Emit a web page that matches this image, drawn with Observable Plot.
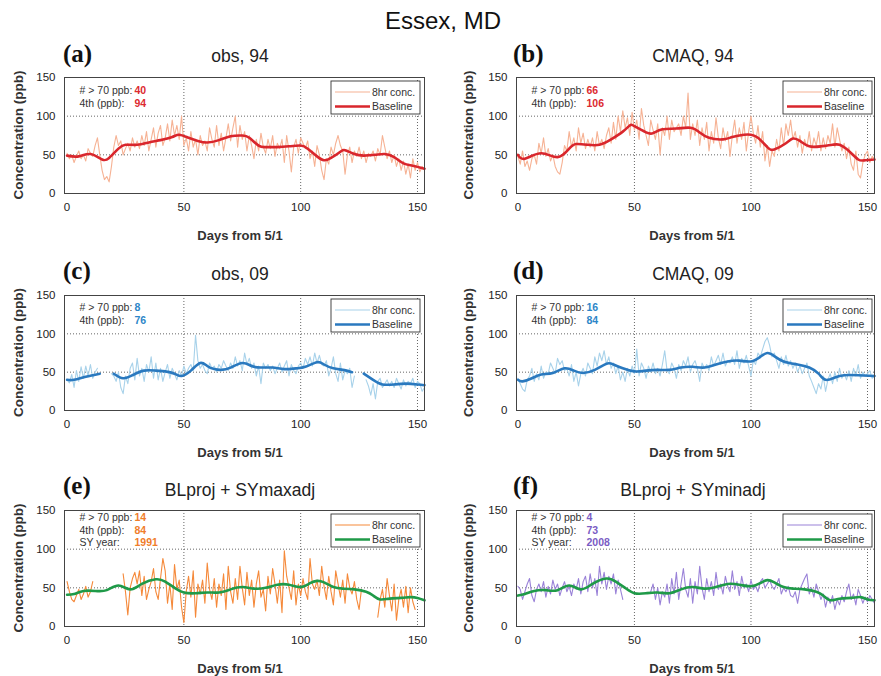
<!DOCTYPE html>
<html><head><meta charset="utf-8">
<script src="https://cdn.jsdelivr.net/npm/d3@7"></script>
<script src="https://cdn.jsdelivr.net/npm/@observablehq/plot@0.6"></script>
<style>
html,body{margin:0;padding:0;background:#fff;}
#page{position:relative;width:881px;height:676px;overflow:hidden;font-family:"Liberation Sans",Arial,sans-serif;background:#fff;}
#page svg.panel{position:absolute;}
#overlay{position:absolute;left:0;top:0;}
</style></head><body><div id="page"></div>
<script>
// ---------- data ----------
const xTicks = [0, 50, 100, 150];
const yTicks = [0, 50, 100, 150];
const xGrid = [50, 100, 150];
const yGrid = [50, 100];
const statLabels2 = ["# > 70 ppb:", "4th (ppb):"];
const statLabels3 = ["# > 70 ppb:", "4th (ppb):", "SY year:"];
const legendLabels = ["8hr conc.", "Baseline"];
const panelTitles = ["obs, 94", "CMAQ, 94", "obs, 09", "CMAQ, 09", "BLproj + SYmaxadj", "BLproj + SYminadj"];
const panelLetters = ["(a)", "(b)", "(c)", "(d)", "(e)", "(f)"];

// (a) obs, 94 — daily 8hr conc, index = day
const concA = [52,45,50,40,48,55,45,50,42,58, 52,48,62,72,50,30,18,22,15,35,
 60,75,62,68,50,58,65,55,72,60, 68,58,75,62,80,55,70,85,60,78, 88,62,72,90,68,95,75,88,70,100,
 62,72,55,80,60,70,50,75,62,68, 55,85,70,60,88,62,78,55,72,90, 68,85,100,60,88,70,80,55,75,62,
 45,70,55,78,60,52,70,58,75,48, 65,58,70,40,75,55,28,60,70,52, 72,65,58,68,45,55,35,62,50,30,
 18,45,38,60,50,65,75,62,55,25, 50,60,40,55,48,60,45,55,40,52, 48,55,42,58,50,75,60,45,55,40,
 50,35,45,30,42,25,38,20,45,30, 40,28,35,30];
const baseA_x = [0,5,10,15,18,22,25,30,35,40,45,48,52,56,60,65,70,75,78,82,85,90,95,100,103,107,110,113,117,119,123,127,132,136,140,144,148,153];
const baseA_y = [49,48,51,44,46,58,63,63,66,69,73,76,72,68,66,69,74,75,72,62,60,60,61,62,58,48,43,46,54,56,51,49,50,51,47,39,36,32];
const statsA = ["40", "94"];

// (b) CMAQ, 94
const concB = [48,38,55,35,42,30,45,50,38,65, 52,72,48,58,42,50,35,28,25,40,
 62,55,80,60,72,55,85,65,78,58, 70,60,72,55,80,62,70,58,75,85, 65,92,70,100,80,107,85,98,75,105,
 82,95,70,110,88,75,62,95,82,70, 90,50,85,75,100,70,95,80,85,90, 75,100,85,130,70,90,75,95,62,85,
 70,92,55,80,65,98,72,58,85,68, 80,48,75,95,65,85,70,92,55,80, 100,78,65,88,60,80,42,62,35,55,
 48,70,55,85,62,90,75,95,70,80, 60,75,52,70,60,80,55,72,62,80, 55,72,58,75,65,90,60,85,70,55,
 65,45,60,38,30,55,25,20,40,50, 55,40,48,45];
const baseB_x = [0,3,10,17,22,25,30,35,40,45,48,50,55,58,62,68,74,78,82,88,92,97,100,103,107,110,115,118,121,125,130,135,138,142,146,149,153];
const baseB_y = [50,45,52,47,58,64,63,63,70,80,88,87,79,78,83,84,85,79,72,70,73,76,76,72,60,57,65,71,68,61,61,63,63,55,44,43,44];
const statsB = ["66", "106"];

// (c) obs, 09 (null = missing)
const concC = [40,36,47,30,52,38,57,42,58,45, 60,42,50,55,null,null,null,null,null,48,
 45,38,50,30,22,45,35,55,62,40, 68,45,55,38,60,50,70,42,62,40, 55,38,50,60,42,55,48,40,52,45,
 58,48,55,60,52,98,65,55,60,52, 48,62,55,58,50,60,55,65,58,52, 62,55,70,58,65,52,75,60,68,55,
 62,45,58,35,62,55,60,52,58,48, 55,62,50,58,65,45,60,52,48,58, 62,55,68,60,70,58,75,62,72,60,
 58,65,45,55,70,48,38,62,40,52, 48,55,30,45,null,null,null,null,40,32, 20,35,15,38,42,30,35,40,32,38,
 30,42,35,28,40,32,38,35,42,30, 38,35,25,30];
const baseC_x = [0,3,8,14,15,20,24,28,33,38,42,46,49,53,57,60,63,66,70,75,79,83,88,93,98,102,107,110,114,118,122,123,127,131,135,140,145,150,153];
const baseC_y = [40,40,44,48,null,48,42,46,52,52,51,48,45,52,62,58,54,53,56,62,58,56,56,54,55,57,63,60,55,53,50,null,48,40,34,34,35,34,33];
const statsC = ["8", "76"];

// (d) CMAQ, 09
const concD = [42,35,28,25,40,45,55,38,48,40, 58,42,50,48,62,55,48,68,60,65,
 52,55,45,60,38,50,32,48,55,45, 62,55,48,70,58,75,65,78,60,70, 55,62,48,58,40,50,38,55,45,58,
 48,80,45,62,55,42,58,50,62,48, 55,45,60,78,52,48,62,55,42,60, 52,65,58,70,50,60,65,55,38,62,
 55,60,52,70,58,65,72,60,75,58, 65,62,70,60,78,55,68,62,72,58, 45,65,60,75,70,80,90,95,85,70,
 75,65,55,70,60,72,58,65,55,62, 50,58,48,55,62,45,38,30,22,35, 28,45,25,40,48,35,50,38,55,42,
 48,40,52,38,55,45,60,42,50,45, 48,52,42,45];
const baseD_x = [0,2,6,10,15,20,24,28,33,38,41,45,50,55,60,65,70,75,80,85,90,95,100,104,107,110,114,120,125,129,132,136,140,146,153];
const baseD_y = [40,38,42,47,49,55,52,49,53,61,60,55,51,52,53,53,56,57,56,60,64,65,64,70,75,71,64,60,56,48,40,43,46,46,45];
const statsD = ["16", "84"];

// (e) BLproj + SYmaxadj
const concE = [58,45,35,32,40,48,35,42,52,38, 45,58,null,null,null,null,null,null,null,null,
 null,null,null,null,68,45,15,50,62,70, 55,72,40,65,35,48,58,75,45,35, 62,88,72,30,55,22,80,48,60,25,
 5,45,65,38,72,12,55,42,60,30, 82,48,35,62,25,55,40,68,22,78, 45,30,62,35,78,50,28,70,40,60,
 25,55,72,38,48,20,65,42,75,55, 30,60,18,98,65,50,35,72,28,55, 40,62,45,35,88,55,48,60,40,78,
 52,35,65,45,28,72,55,38,60,30, 68,50,42,58,35,22,48,null,null,null, null,null,null,12,35,48,25,62,40,20,
 55,8,35,48,25,52,18,50,32,22, null,null,null,null];
const baseE_x = [0,3,7,12,17,22,27,32,38,42,46,50,55,60,65,70,75,80,85,90,95,100,104,107,110,114,118,123,128,131,134,138,143,147,150,153];
const baseE_y = [41,42,46,46,47,53,48,55,61,58,50,44,43,44,44,48,51,49,50,54,54,51,56,59,57,51,49,48,45,40,35,36,37,38,37,34];
const statsE = ["14", "84", "1991"];

// (f) BLproj + SYminadj
const concF = [52,48,35,45,55,62,40,32,48,55, 45,58,38,52,42,60,48,55,40,50,
 58,45,52,40,55,48,62,42,58,65, 45,68,50,62,40,78,55,70,48,65, 55,68,42,60,48,35,null,null,null,null,
 null,null,null,null,null,null,null,45,55,35, 50,28,45,38,55,30,62,42,70,35, 55,75,48,38,62,30,58,42,78,50,
 35,62,45,58,40,70,48,55,42,65, 52,45,72,48,58,40,65,50,55,45, 60,48,52,45,58,62,50,55,60,52,
 48,55,62,42,50,45,52,40,38,45, 30,48,55,62,68,42,50,38,55,45, 35,42,25,38,30,40,22,35,28,40,
 32,45,55,35,42,28,48,40,30,38, 32,40,35,30];
const baseF_x = [0,3,7,12,17,22,27,32,38,42,46,50,55,60,65,70,75,80,85,90,95,100,104,107,110,114,118,123,128,131,134,138,143,147,150,153];
const baseF_y = [40,42,46,47,47,53,48,55,62,58,50,43,43,44,43,48,51,49,51,55,54,52,56,60,57,51,49,48,45,40,34,36,37,38,35,34];
const statsF = ["4", "73", "2008"];

// ---------- layout ----------
const cols = [
  {L: 64, R: 424, domain: [-1.1, 153], titleX: 240, labX: 63, yLabX: 23, xLabX: 240, legX: 331},
  {L: 516, R: 874, domain: [-0.6, 153], titleX: 693, labX: 513, yLabX: 472.5, xLabX: 692, legX: 783}
];
const rows = [
  {T: 77, B: 193, titleY: 62, letterY: 62, statY: 13},
  {T: 295, B: 410, titleY: 280, letterY: 279, statY: 12.5},
  {T: 510, B: 626, titleY: 496, letterY: 494, statY: 7}
];
const green = "#1f9a48";
const panels = [
  {conc: concA, bx: baseA_x, by: baseA_y, stats: statsA, labels: statLabels2, light: "#f6b294", dark: "#d9262c", val: "#dc2a30"},
  {conc: concB, bx: baseB_x, by: baseB_y, stats: statsB, labels: statLabels2, light: "#f6b294", dark: "#d9262c", val: "#dc2a30"},
  {conc: concC, bx: baseC_x, by: baseC_y, stats: statsC, labels: statLabels2, light: "#a8d2ea", dark: "#2a79bf", val: "#2d86c8"},
  {conc: concD, bx: baseD_x, by: baseD_y, stats: statsD, labels: statLabels2, light: "#a8d2ea", dark: "#2a79bf", val: "#2d86c8"},
  {conc: concE, bx: baseE_x, by: baseE_y, stats: statsE, labels: statLabels3, light: "#f5893a", dark: green, val: "#f07d2a"},
  {conc: concF, bx: baseF_x, by: baseF_y, stats: statsF, labels: statLabels3, light: "#9a82d8", dark: green, val: "#7a5cc4"}
];

const page = document.getElementById("page");
const mL = 56, mR = 8, mT = 10, mB = 28;
const lineStep = 12.7;

panels.forEach((p, k) => {
  const c = cols[k % 2], r = rows[Math.floor(k / 2)];
  const fw = c.R - c.L, fh = r.B - r.T;
  const concData = p.conc.map((y, i) => ({x: i, y}));
  const baseData = p.bx.map((x, i) => ({x, y: p.by[i]}));
  const marks = [
    Plot.ruleX(xGrid, {stroke: "#555", strokeDasharray: "1,2", strokeWidth: 0.9}),
    Plot.ruleY(yGrid, {stroke: "#555", strokeDasharray: "1,2", strokeWidth: 0.9}),
    Plot.line(concData, {x: "x", y: "y", stroke: p.light, strokeWidth: 1.1}),
    Plot.line(baseData, {x: "x", y: "y", stroke: p.dark, strokeWidth: 2.6, curve: "natural"}),
    Plot.frame({stroke: "#444", strokeWidth: 1})
  ];
  p.labels.forEach((lab, i) => {
    marks.push(Plot.text([lab], {text: d => d, frameAnchor: "top-left", dx: 15, dy: r.statY + i * lineStep,
      textAnchor: "start", lineAnchor: "middle", fontSize: 10.5, fill: "#333"}));
    marks.push(Plot.text([p.stats[i]], {text: d => d, frameAnchor: "top-left", dx: 70, dy: r.statY + i * lineStep,
      textAnchor: "start", lineAnchor: "middle", fontSize: 10.5, fontWeight: "bold", fill: p.val}));
  });
  const svg = Plot.plot({
    width: fw + mL + mR, height: fh + mT + mB,
    marginLeft: mL, marginRight: mR, marginTop: mT, marginBottom: mB,
    style: {background: "transparent", overflow: "visible", fontFamily: "'Liberation Sans', Arial, sans-serif", fontSize: "11.5px", color: "#222", maxWidth: "none"},
    x: {domain: c.domain, ticks: xTicks, tickSize: 0, tickPadding: 9, label: null, tickFormat: d => String(d)},
    y: {domain: [0, 150], ticks: yTicks, tickSize: 0, tickPadding: 9, label: null, tickFormat: d => String(d)},
    marks
  });
  svg.classList.add("panel");
  svg.style.left = (c.L - mL) + "px";
  svg.style.top = (r.T - mT) + "px";
  page.appendChild(svg);
});

// ---------- overlay: titles, axis labels, legends ----------
const ov = d3.select(page).append("svg").attr("id", "overlay").attr("width", 881).attr("height", 676)
  .style("font-family", "'Liberation Sans', Arial, sans-serif");
ov.append("text").attr("x", 443).attr("y", 29).attr("text-anchor", "middle")
  .attr("font-size", 24).attr("fill", "#111").text("Essex, MD");

panels.forEach((p, k) => {
  const c = cols[k % 2], r = rows[Math.floor(k / 2)];
  ov.append("text").attr("x", c.labX).attr("y", r.letterY).attr("font-family", "'Liberation Serif', 'Times New Roman', serif")
    .attr("font-weight", "bold").attr("font-size", 25).attr("fill", "#111").text(panelLetters[k]);
  ov.append("text").attr("x", c.titleX).attr("y", r.titleY).attr("text-anchor", "middle")
    .attr("font-size", 17.5).attr("fill", "#222").text(panelTitles[k]);
  ov.append("text").attr("x", c.xLabX).attr("y", r.B + 47).attr("text-anchor", "middle")
    .attr("font-size", 13).attr("font-weight", "bold").attr("fill", "#333").text("Days from 5/1");
  const cy = (r.T + r.B) / 2;
  ov.append("text").attr("transform", `translate(${c.yLabX},${cy}) rotate(-90)`).attr("text-anchor", "middle")
    .attr("font-size", 13.5).attr("font-weight", "bold").attr("fill", "#333").text("Concentration (ppb)");
  // legend
  const lx = c.legX, ly = r.T + 4;
  const g = ov.append("g");
  g.append("rect").attr("x", lx).attr("y", ly).attr("width", 89).attr("height", 33)
    .attr("fill", "#fff").attr("stroke", "#333").attr("stroke-width", 0.9);
  g.append("line").attr("x1", lx + 4).attr("x2", lx + 39).attr("y1", ly + 11).attr("y2", ly + 11)
    .attr("stroke", p.light).attr("stroke-width", 1.2);
  g.append("line").attr("x1", lx + 4).attr("x2", lx + 39).attr("y1", ly + 25.5).attr("y2", ly + 25.5)
    .attr("stroke", p.dark).attr("stroke-width", 2.6);
  legendLabels.forEach((t, i) => {
    g.append("text").attr("x", lx + 41).attr("y", ly + 14.8 + i * 14.5).attr("font-size", 10.5)
      .attr("fill", "#333").text(t);
  });
});
</script>
</body></html>
